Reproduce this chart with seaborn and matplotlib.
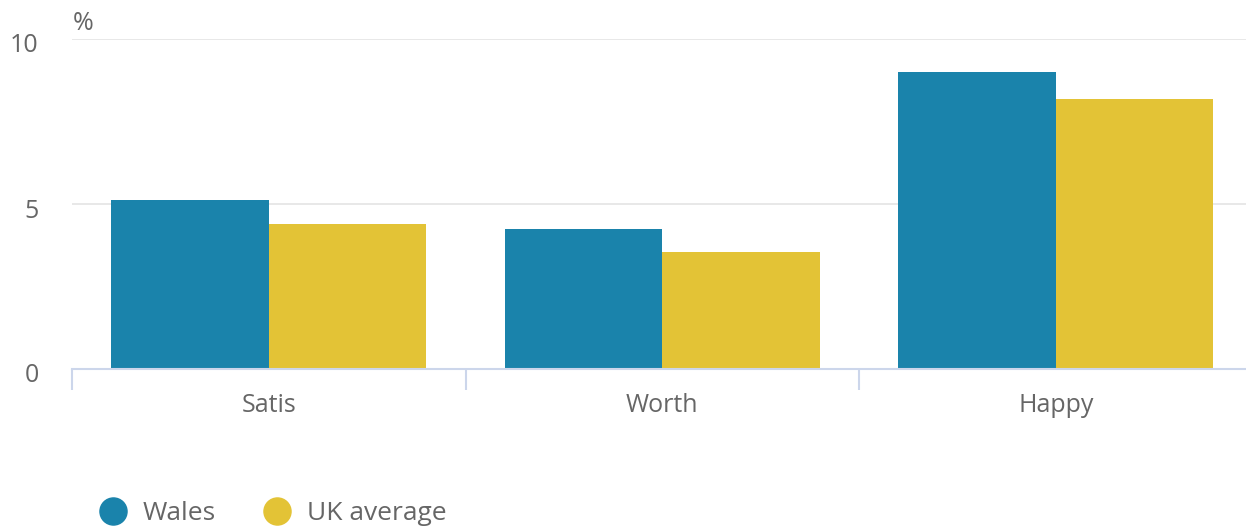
import matplotlib
matplotlib.use("Agg")
import matplotlib.pyplot as plt
import matplotlib.transforms as mtransforms
from matplotlib.lines import Line2D
import seaborn as sns
import pandas as pd

categories = ["Satis", "Worth", "Happy"]
series_names = ["Wales", "UK average"]
wales = [5.12, 4.23, 9.0]
uk_average = [4.38, 3.55, 8.18]
colors = ["#1a83ab", "#e3c336"]
y_ticks = [0, 5, 10]

df = pd.DataFrame({
    "category": categories * 2,
    "series": [series_names[0]] * 3 + [series_names[1]] * 3,
    "value": wales + uk_average,
})

sns.set_style("white")
plt.rcParams["font.family"] = ["Open Sans", "DejaVu Sans"]

W, H = 1246, 526
fig = plt.figure(figsize=(W / 100, H / 100), dpi=100)
left, bottom, top = 72, 369, 39
ax = fig.add_axes([left / W, (H - bottom) / H, (W - left) / W, (bottom - top) / H])

sns.barplot(data=df, x="category", y="value", hue="series", order=categories,
            hue_order=series_names, palette=colors, width=0.8, saturation=1,
            edgecolor="none", linewidth=0, ax=ax, legend=False, zorder=3)

ax.set_xlim(-0.5, -0.5 + (W - left) / 393.5)
ax.set_ylim(0, 10)
ax.set_yticks(y_ticks)
ax.set_yticklabels([str(t) for t in y_ticks])
ax.yaxis.grid(True, color="#e6e6e6", linewidth=1.3, zorder=0)
ax.set_axisbelow(True)
for s in ["top", "right", "left"]:
    ax.spines[s].set_visible(False)
ax.spines["bottom"].set_color("#ccd6eb")
ax.spines["bottom"].set_linewidth(1.5)
ax.spines["bottom"].set_zorder(4)
ax.tick_params(axis="y", length=0, pad=24, labelsize=18, labelcolor="#666666")
ax.tick_params(axis="x", which="major", length=0, pad=17, labelsize=18, labelcolor="#666666")
ax.set_xticks([-0.5, 0.5, 1.5], minor=True)
ax.tick_params(axis="x", which="minor", bottom=True, length=15, width=1.5,
               color="#ccd6eb", direction="out")
ax.set_xlabel("")
ax.set_ylabel("")

offset = mtransforms.ScaledTranslation(0, -4 / 100, fig.dpi_scale_trans)
for lab in ax.get_yticklabels():
    lab.set_transform(lab.get_transform() + offset)

fig.text(73 / W, (H - 24) / H, "%", fontsize=18, color="#666666", va="center", ha="left")

handles = [Line2D([0], [0], marker="o", linestyle="none", markersize=19.5,
                  markerfacecolor=c, markeredgecolor=c) for c in colors]
fig.legend(handles, series_names, loc="center left", ncol=2, frameon=False,
           bbox_to_anchor=(99.5 / W, (H - 514) / H), borderpad=0, borderaxespad=0,
           handlelength=1.0, handletextpad=0.62, columnspacing=1.85,
           fontsize=19, labelcolor="#666666")

fig.savefig("out.png", dpi=100)
